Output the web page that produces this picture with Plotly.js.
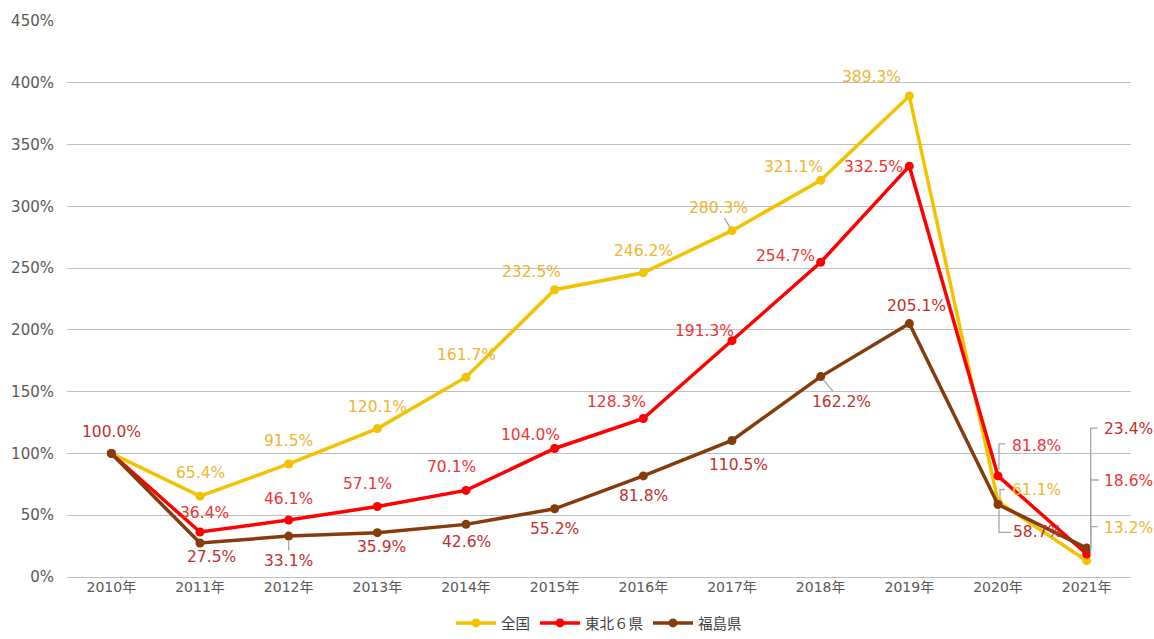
<!DOCTYPE html>
<html>
<head>
<meta charset="utf-8">
<script src="https://cdn.plot.ly/plotly-3.0.1.min.js"></script>
<style>html,body{margin:0;padding:0;background:#fff}#chart{width:1154px;height:639px}</style>
</head>
<body>
<div id="chart"></div>
<script>
// ---- data ----
const years = ["2010年","2011年","2012年","2013年","2014年","2015年","2016年","2017年","2018年","2019年","2020年","2021年"];
const zenkoku = [100.0, 65.4, 91.5, 120.1, 161.7, 232.5, 246.2, 280.3, 321.1, 389.3, 61.1, 13.2];
const tohoku  = [100.0, 36.4, 46.1, 57.1, 70.1, 104.0, 128.3, 191.3, 254.7, 332.5, 81.8, 18.6];
const fukushima = [100.0, 27.5, 33.1, 35.9, 42.6, 55.2, 81.8, 110.5, 162.2, 205.1, 58.7, 23.4];
const seriesNames = ["全国", "東北６県", "福島県"];
const yTickVals = [0, 50, 100, 150, 200, 250, 300, 350, 400, 450];

// ---- styling / label placement (pixel offsets from the point) ----
const lineColors = ["#F2C300", "#FF0000", "#843C0C"];
const labelColors = ["#ECB630", "#EE3535", "#C0312B"];
// [dx, dy, leader] per point; leader 1 = straight line, 2 = elbow line (pixel path, y up)
const placeZ = [null,[0,-23],[0,-23],[0,-22],[0,-22],[-23,-18],[0,-22],[-14,-23,1],[-27,-13],[-38,-19],[38,-12,2,[[2,4],[2,12],[7,12]]],[42,-33,2,[[4,5],[4,34],[11,34]]]];
const placeT = [null,[4,-19],[0,-21],[-10,-22],[-15,-23],[-24,-14],[-27,-16],[-28,-10],[-35,-6],[-36,1],[38,-30,2,[[1,6],[1,32],[7,32]]],[42,-73,2,[[4,6],[4,74],[12,74]]]];
const placeF = [[0,-21],[11,14],[0,25,1],[4,14],[0,18],[0,20],[0,20],[6,25],[21,25,1],[7,-18],[39,28,2,[[1,-5],[1,-28],[13,-28]]],[42,-119,2,[[4,3],[4,120],[11,120]]]];

const all = [zenkoku, tohoku, fukushima];
const places = [placeZ, placeT, placeF];
const FONT = "DejaVu Sans, Noto Sans CJK JP, sans-serif";

const traces = all.map((ys, k) => ({
  type: "scatter", mode: "lines+markers", name: seriesNames[k],
  x: years, y: ys,
  line: {color: lineColors[k], width: 3.5},
  marker: {color: lineColors[k], size: 9},
  hoverinfo: "skip"
}));

const annotations = [];
const shapes = [];
all.forEach((ys, k) => {
  ys.forEach((v, i) => {
    const p = places[k][i];
    if (!p) return;
    annotations.push({
      x: years[i], y: v, xref: "x", yref: "y",
      text: v.toFixed(1) + "%",
      showarrow: true, ax: p[0], ay: p[1], axref: "pixel", ayref: "pixel",
      arrowhead: 0, arrowwidth: 1.3,
      arrowcolor: p[2] === 1 ? "#A6A6A6" : "rgba(0,0,0,0)",
      standoff: 4,
      font: {family: FONT, size: 15.5, color: labelColors[k]}
    });
    if (p[2] === 2) {
      const pts = p[3];
      const path = "M" + pts.map(q => q[0] + "," + q[1]).join(" L");
      shapes.push({
        type: "path", xref: "x", yref: "y",
        xsizemode: "pixel", ysizemode: "pixel",
        xanchor: i, yanchor: v,
        path: path,
        line: {color: "#A6A6A6", width: 1.3}
      });
    }
  });
});

const layout = {
  width: 1154, height: 639,
  margin: {l: 67, r: 23, t: 21, b: 62},
  paper_bgcolor: "#fff", plot_bgcolor: "#fff",
  showlegend: true,
  legend: {
    orientation: "h", x: 0.5, xanchor: "center", xref: "paper",
    y: 7, yref: "container", yanchor: "middle",
    font: {family: FONT, size: 14.5, color: "#404040"},
    itemwidth: 40, tracegroupgap: 0
  },
  xaxis: {
    type: "category", range: [-0.5, 11.5],
    showgrid: false, showline: false, zeroline: false, ticks: "",
    tickfont: {family: FONT, size: 14, color: "#595959"}
  },
  yaxis: {
    range: [0, 450], tickvals: yTickVals,
    ticktext: yTickVals.map(v => v + "%"),
    showgrid: true, gridcolor: "#BFBFBF", gridwidth: 1,
    zeroline: true, zerolinecolor: "#BFBFBF", zerolinewidth: 1,
    showline: false, ticks: "", ticklen: 0, ticklabelstandoff: 12,
    tickfont: {family: FONT, size: 15, color: "#595959"}
  },
  annotations: annotations,
  shapes: shapes
};

Plotly.newPlot("chart", traces, layout, {displayModeBar: false, staticPlot: true});
</script>
</body>
</html>
